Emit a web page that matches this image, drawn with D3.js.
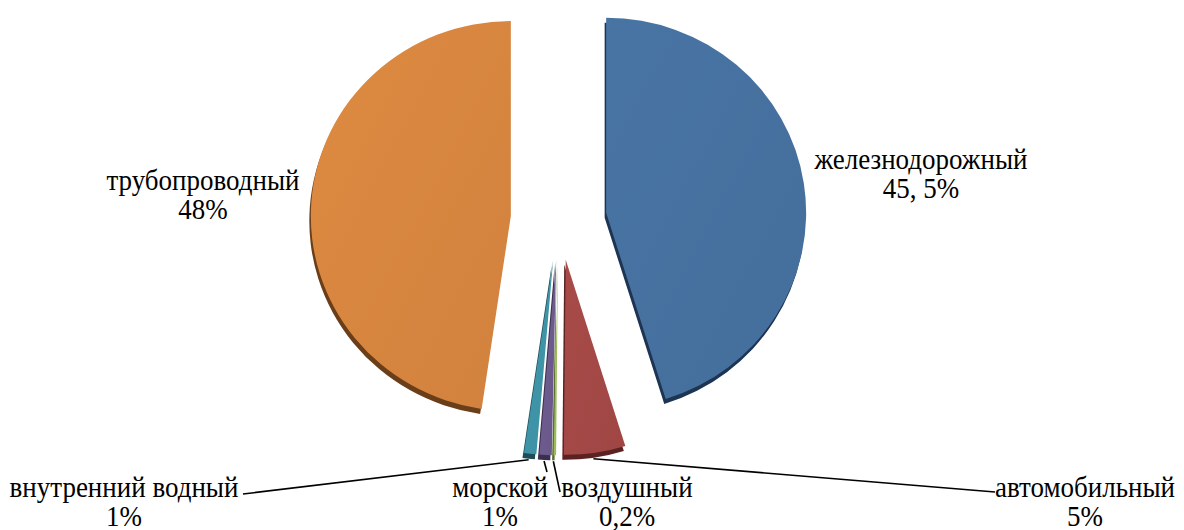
<!DOCTYPE html>
<html>
<head>
<meta charset="utf-8">
<script src="https://cdn.jsdelivr.net/npm/d3@7"></script>
<style>
  html, body { margin: 0; padding: 0; background: #fff; }
  svg { display: block; }
</style>
</head>
<body>
<svg id="chart" width="1184" height="530"></svg>
<script>
// Freight turnover by mode of transport, %
const categories = ["железнодорожный", "автомобильный", "воздушный", "морской", "внутренний водный", "трубопроводный"];
const shares = [45.5, 5, 0.2, 1, 1, 48];
const shareLabels = ["45, 5%", "5%", "0,2%", "1%", "1%", "48%"];

const faceColors = ["#45709e", "#a24845", "#9bbb59", "#6c5a8d", "#3e93a6", "#d6853f"];
const sideColors = ["#1d3452", "#5a2220", "#5b7030", "#3a2f4f", "#1e4c57", "#6a3e18"];

// label layout: baseline of the first text line and where the leader line ends
const labelLayout = [
  { x: 921, y: 169, leader: null },
  { x: 1085, y: 497, leader: [995, 492] },
  { x: 627, y: 497, leader: [560, 492] },
  { x: 500, y: 497, leader: [547, 472] },
  { x: 124, y: 497, leader: [243, 494] },
  { x: 203, y: 190, leader: null }
];

const svg = d3.select("#chart");
const cx = 558.7, cy = 219;
const rx = 200, ky = 0.975;       // slight tilt of the pie plane
const explode = 48, explodeKy = 0.86;
const depth = { dx: -1.5, dy: 5 };
const textStretch = 1.12;         // labels are set slightly taller than wide
const lineGap = 29;

const pie = d3.pie().sort(null).value(d => d)(shares);
const arc = d3.arc().innerRadius(0).outerRadius(rx);

const defs = svg.append("defs");
faceColors.forEach((c, i) => {
  const g = defs.append("linearGradient").attr("id", "face" + i)
    .attr("x1", "0%").attr("y1", "0%").attr("x2", "100%").attr("y2", "100%");
  g.append("stop").attr("offset", "0%").attr("stop-color", d3.color(c).brighter(0.1));
  g.append("stop").attr("offset", "100%").attr("stop-color", d3.color(c).darker(0.06));
});

function sliceOrigin(d) {
  const a = (d.startAngle + d.endAngle) / 2;
  return [cx + explode * Math.sin(a), cy - explode * explodeKy * Math.cos(a)];
}

const slices = svg.append("g").selectAll("g.slice")
  .data(pie).join("g").attr("class", "slice")
  .attr("transform", d => { const [x, y] = sliceOrigin(d); return `translate(${x},${y})`; });

// extruded side
slices.append("path")
  .attr("transform", `translate(${depth.dx},${depth.dy}) scale(1,${ky})`)
  .attr("d", arc)
  .attr("fill", (d, i) => sideColors[i]);

// top face
slices.append("path")
  .attr("transform", `scale(1,${ky})`)
  .attr("d", arc)
  .attr("fill", (d, i) => `url(#face${i})`);

// leader lines from the outer rim of each small slice
const leaders = svg.append("g");
pie.forEach((d, i) => {
  const lay = labelLayout[i];
  if (!lay.leader) return;
  const [ox, oy] = sliceOrigin(d);
  const a = (d.startAngle + d.endAngle) / 2;
  const sx = ox + rx * Math.sin(a) + depth.dx;
  const sy = oy - rx * ky * Math.cos(a) + depth.dy + 1;
  leaders.append("line")
    .attr("x1", sx).attr("y1", sy)
    .attr("x2", lay.leader[0]).attr("y2", lay.leader[1])
    .attr("stroke", "#000").attr("stroke-width", 1.6);
});

// category and share labels, one text element per line
const labelGroup = svg.append("g");
function addLine(str, x, y) {
  labelGroup.append("text")
    .attr("text-anchor", "middle")
    .attr("x", 0).attr("y", 0)
    .attr("font-size", 27)
    .style("font-family", '"Liberation Serif"')
    .attr("fill", "#000")
    .attr("transform", `translate(${x},${y}) scale(1,${textStretch})`)
    .text(str);
}
categories.forEach((c, i) => {
  const lay = labelLayout[i];
  addLine(c, lay.x, lay.y);
  addLine(shareLabels[i], lay.x, lay.y + lineGap);
});
</script>
</body>
</html>
